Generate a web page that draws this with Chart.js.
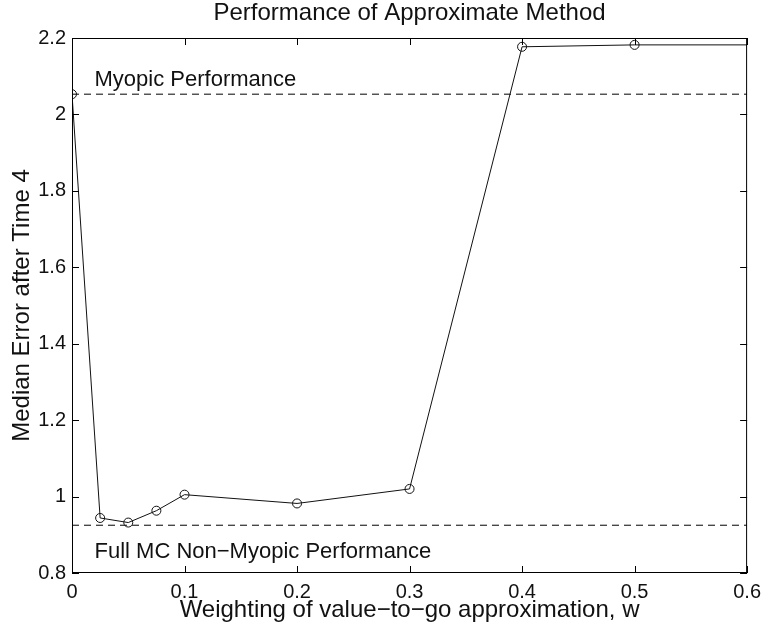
<!DOCTYPE html>
<html>
<head>
<meta charset="utf-8">
<script src="https://cdn.jsdelivr.net/npm/chart.js@4.4.1/dist/chart.umd.min.js"></script>
<style>
  html, body { margin: 0; padding: 0; background: #fff; }
  #wrap { width: 768px; height: 632px; }
</style>
</head>
<body>
<div id="wrap"><canvas id="chart" width="768" height="632"></canvas></div>
<script>
// Datos
const weights = [0, 0.025, 0.05, 0.075, 0.1, 0.2, 0.3, 0.4, 0.5, 0.6];
const medianError = [2.053, 0.944, 0.932, 0.963, 1.005, 0.982, 1.020, 2.177, 2.182, 2.182];
const myopicLevel = 2.053;
const fullMCLevel = 0.925;
const xTicks = [0, 0.1, 0.2, 0.3, 0.4, 0.5, 0.6];
const yTicks = [0.8, 1, 1.2, 1.4, 1.6, 1.8, 2, 2.2];
const refLabels = ['Myopic Performance', 'Full MC Non\u2212Myopic Performance'];
const chartTitle = 'Performance of Approximate Method';

const FONT = '"Liberation Sans", Arial, Helvetica, sans-serif';

function fmt(v) {
    return String(Number(v.toFixed(2)));
}

// Marco y marcas hacia adentro (estilo MATLAB), titulo y textos de referencia
const matlabAxes = {
    id: 'matlabAxes',
    afterDatasetsDraw(chart) {
        const ctx = chart.ctx;
        const a = chart.chartArea;
        const xs = chart.scales.x;
        const ys = chart.scales.y;
        const tl = 7;
        ctx.save();
        ctx.strokeStyle = '#000';
        ctx.lineWidth = 1;
        ctx.strokeRect(a.left + 0.5, a.top + 0.5, a.right - a.left - 1, a.bottom - a.top - 1);
        ctx.beginPath();
        xTicks.forEach(function(t) {
            const px = Math.round(xs.getPixelForValue(t)) + 0.5;
            ctx.moveTo(px, a.bottom); ctx.lineTo(px, a.bottom - tl);
            ctx.moveTo(px, a.top); ctx.lineTo(px, a.top + tl);
        });
        yTicks.forEach(function(t) {
            const py = Math.round(ys.getPixelForValue(t)) + 0.5;
            ctx.moveTo(a.left, py); ctx.lineTo(a.left + tl, py);
            ctx.moveTo(a.right, py); ctx.lineTo(a.right - tl, py);
        });
        ctx.stroke();

        ctx.fillStyle = '#111';
        ctx.textBaseline = 'middle';

        // titulo centrado sobre el area del grafico
        ctx.font = '24px ' + FONT;
        ctx.textAlign = 'center';
        ctx.fillText(chartTitle, (a.left + a.right) / 2, 13);

        // textos de las lineas de referencia
        ctx.font = '22px ' + FONT;
        ctx.textAlign = 'left';
        ctx.fillText(refLabels[0], xs.getPixelForValue(0.02), ys.getPixelForValue(2.091));
        ctx.fillText(refLabels[1], xs.getPixelForValue(0.02), ys.getPixelForValue(0.854));
        ctx.restore();
    }
};

const ctx = document.getElementById('chart').getContext('2d');
const chart = new Chart(ctx, {
    type: 'line',
    data: {
        datasets: [
            {
                data: weights.map(function(w, i) { return { x: w, y: medianError[i] }; }),
                borderColor: '#111',
                borderWidth: 1,
                pointStyle: 'circle',
                pointRadius: function(c) { return c.dataIndex === weights.length - 1 ? 0 : 4.5; },
                pointBorderColor: '#111',
                pointBorderWidth: 1,
                pointBackgroundColor: 'rgba(0,0,0,0)',
                tension: 0
            },
            {
                data: [{ x: 0, y: myopicLevel }, { x: 0.6, y: myopicLevel }],
                borderColor: '#000',
                borderWidth: 1,
                borderDash: [7, 5],
                pointRadius: 0
            },
            {
                data: [{ x: 0, y: fullMCLevel }, { x: 0.6, y: fullMCLevel }],
                borderColor: '#000',
                borderWidth: 1,
                borderDash: [7, 5],
                pointRadius: 0
            }
        ]
    },
    options: {
        responsive: false,
        animation: false,
        devicePixelRatio: 1,
        layout: {
            padding: { left: 0, right: 18, top: 38, bottom: 0 }
        },
        plugins: {
            legend: { display: false },
            tooltip: { enabled: false },
            title: { display: false }
        },
        scales: {
            x: {
                type: 'linear',
                min: 0,
                max: 0.6,
                afterBuildTicks: function(scale) {
                    scale.ticks = xTicks.map(function(v) { return { value: v }; });
                },
                afterFit: function(scale) { scale.height = 59; },
                grid: { display: false, drawTicks: false },
                border: { display: false },
                ticks: {
                    color: '#111',
                    padding: 7,
                    maxRotation: 0,
                    autoSkip: false,
                    font: { family: FONT, size: 20 },
                    callback: function(value) { return fmt(value); }
                },
                title: {
                    display: true,
                    text: 'Weighting of value\u2212to\u2212go approximation, w',
                    color: '#111',
                    font: { family: FONT, size: 24 },
                    padding: { top: 0, bottom: 7.6 }
                }
            },
            y: {
                type: 'linear',
                min: 0.8,
                max: 2.2,
                afterBuildTicks: function(scale) {
                    scale.ticks = yTicks.map(function(v) { return { value: v }; });
                },
                afterFit: function(scale) { scale.width = 72; },
                grid: { display: false, drawTicks: false },
                border: { display: false },
                ticks: {
                    color: '#111',
                    padding: 6,
                    autoSkip: false,
                    font: { family: FONT, size: 20 },
                    callback: function(value) { return fmt(value); }
                },
                title: {
                    display: true,
                    text: 'Median Error after Time 4',
                    color: '#111',
                    font: { family: FONT, size: 24 },
                    padding: { top: 7.6, bottom: 0 }
                }
            }
        }
    },
    plugins: [matlabAxes]
});
</script>
</body>
</html>
